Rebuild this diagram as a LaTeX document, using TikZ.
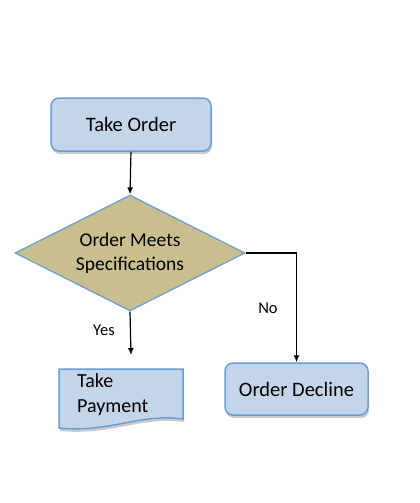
\documentclass[tikz,border=0pt]{standalone}
\usepackage{fontspec}
\setmainfont{Carlito}
\usetikzlibrary{shapes.geometric,shadows,arrows.meta}
\definecolor{boxfill}{HTML}{C5D5E9}
\definecolor{boxline}{HTML}{6A9ED6}
\definecolor{diafill}{HTML}{C8BE8E}
\begin{document}
\begin{tikzpicture}[x=1pt,y=-1pt,
  shade/.style={drop shadow={shadow xshift=1pt,shadow yshift=-3pt,opacity=0.35,fill=black!60}},
  procbox/.style={draw=boxline,fill=boxfill,line width=1.5pt,rounded corners=8pt,inner sep=0pt,shade,font=\fontsize{20.5}{24}\selectfont},
  decision/.style={diamond,draw=boxline,fill=diafill,line width=1.2pt,inner sep=0pt},
  flow/.style={line width=1.2pt,-{Latex[length=7pt,width=6pt]}},
  lbl/.style={font=\fontsize{16.5}{19}\selectfont,inner sep=0pt}]
\useasboundingbox (0,0) rectangle (420,503);
\node[procbox,minimum width=160pt,minimum height=53pt] (take) at (131,124.5) {Take Order};
\node[decision,minimum width=230pt,minimum height=116pt,
  label={[align=center,inner sep=0pt,font=\fontsize{19.5}{24}\selectfont]center:Order Meets\\Specifications}] (dia) at (130,253) {};
\node[procbox,minimum width=143pt,minimum height=52pt] (decline) at (296.5,389) {Order Decline};
% document shape
\draw[draw=boxline,fill=boxfill,line width=1.5pt,shade]
  (59,369) -- (183,369) -- (183,419) .. controls (140,413) and (110,433) .. (59,428) -- cycle;
\node[inner sep=0pt,minimum width=124pt,minimum height=50pt] (pay) at (121,394) {};
\node[anchor=west,inner sep=0pt,align=left,font=\fontsize{20}{25}\selectfont] (paytext) at (77,394.5) {Take\\Payment};
\coordinate (yesend) at (131,355);
\draw[flow] (take.south) -- (dia.north);
\draw[flow] (dia.south) -- (yesend);
\draw[flow] (dia.east) -| (decline.north);
\node[lbl] (yes) at (104,330) {Yes};
\node[lbl] (no) at (268,308) {No};
\end{tikzpicture}
\end{document}
